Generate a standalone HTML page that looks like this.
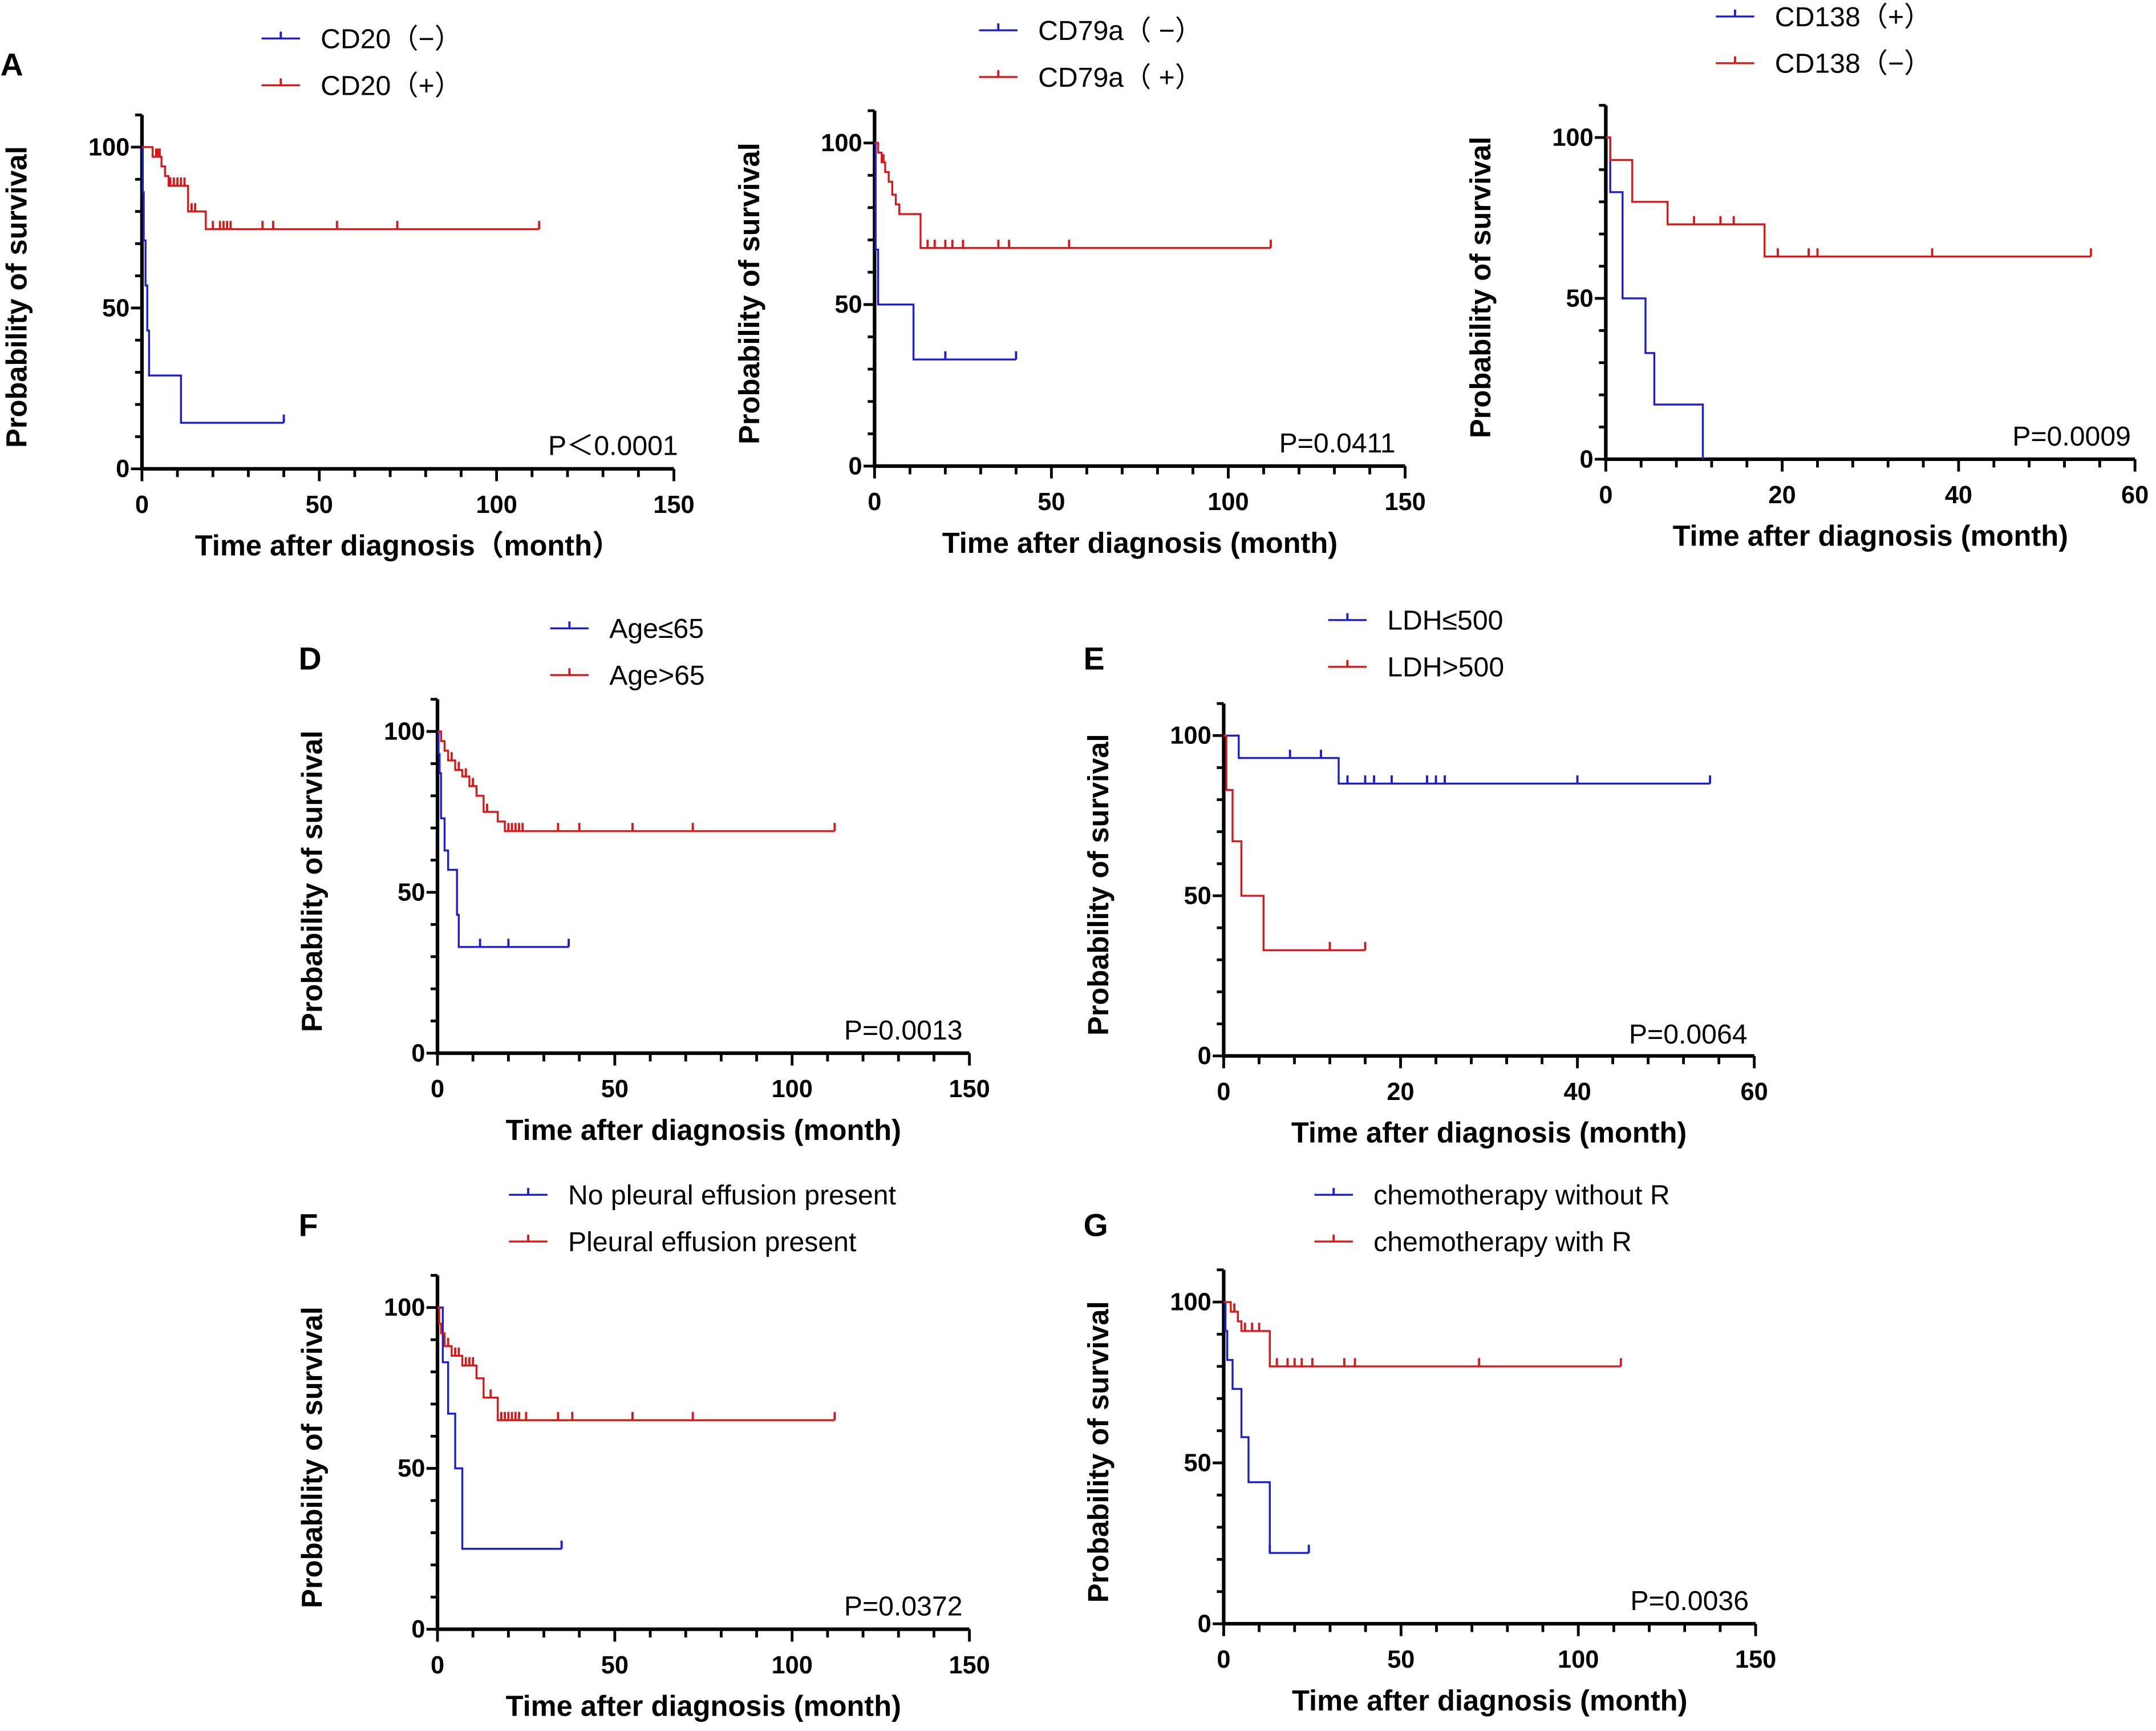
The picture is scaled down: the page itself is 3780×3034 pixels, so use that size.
<!DOCTYPE html>
<html><head><meta charset="utf-8"><style>
html,body{margin:0;padding:0;background:#fff}
svg{display:block}
text{font-family:"Liberation Sans","Noto Sans CJK SC",sans-serif}
</style></head><body>
<svg id="fig" width="3780" height="3034" viewBox="0 0 1568 1259" xmlns="http://www.w3.org/2000/svg"></svg>
<script>
// ---- data (time in months, survival %) ----
const aBlueT=[0.2,0.5,1,1.5,2,11], aBlueS=[86,71,57,43,29,14.3], aBlueC=[40], aBlueEnd=40;
const aRedT=[3,5.5,6.5,7.5,13,18], aRedS=[97,94,91,88,80,74.5], aRedC=[4,4.5,5,8,9,10,11,12,14,15,20,22,23,24,25,34,37,55,72,112], aRedEnd=112;
const bBlueT=[0.3,1,11], bBlueS=[67,50,33], bBlueC=[20,40], bBlueEnd=40;
const bRedT=[1,2,3,4,5,6,7,13], bRedS=[97,94,91,88,84,81,78,67.5], bRedC=[2.5,15,17,20,22,25,35,38,55,112], bRedEnd=112;
const cBlueT=[0.5,1.9,4.5,5.5,11], cBlueS=[83,50,33,17,0], cBlueC=[], cBlueEnd=11;
const cRedT=[0.5,3,7,18], cRedS=[93,80,73,63], cRedC=[10,13,14.5,19.5,23,24,37,55], cRedEnd=55;
const dBlueT=[0.3,0.6,1,2,3,5.5,6], dBlueS=[93,87,73,63,57,43,33], dBlueC=[12,20,37], dBlueEnd=37;
const dRedT=[1,2,3,5,7,9,11,13,17,19], dRedS=[97,94,91,88,86,83,80,75,72,69], dRedC=[4,6,8,10,14,20,21,22,23,24,34,40,55,72,112], dRedEnd=112;
const eBlueT=[1.7,13], eBlueS=[93,85], eBlueC=[7.5,11,14,16,17,19,23,24,25,40,55], eBlueEnd=55;
const eRedT=[0.3,1,2,4.5], eRedS=[83,67,50,33], eRedC=[12,16], eRedEnd=16;
const fBlueT=[1.5,3,5,7], fBlueS=[83,67,50,25], fBlueC=[35], fBlueEnd=35;
const fRedT=[0.5,1,2,4,7,11,13,17], fRedS=[95,92,88,85,82,78,72,65], fRedC=[3,5,6,8,9,10,15,18,19,20,21,22,23,25,34,38,55,72,112], fRedEnd=112;
const gBlueT=[0.5,1,2.5,5,7,13], gBlueS=[91,82,73,58,44,22], gBlueC=[13,24], gBlueEnd=24;
const gRedT=[2,4,5,13], gRedS=[97,94,91,80], gRedC=[3,6,8,10,15,18,20,22,25,34,37,72,112], gRedEnd=112;
const xTicks150=[0,50,100,150], xTicks60=[0,20,40,60], yTicks=[0,50,100];

const NS="http://www.w3.org/2000/svg";
const svg=document.getElementById('fig');
const BLUE="#1c1cd2", RED="#d61a1a";
function mk(tag,attrs,parent){const e=document.createElementNS(NS,tag);for(const k in attrs)e.setAttribute(k,attrs[k]);(parent||svg).appendChild(e);return e;}

function panel(p){
  const g=mk('g',{});
  
  
  const sx=t=>p.x0+(t/p.xmax)*(p.x1-p.x0);
  const sy=v=>p.y0-(v/100)*(p.y0-p.y100);
  const ax=mk('path',{d:`M${p.x0},${sy(110)} L${p.x0},${p.y0} L${p.x1},${p.y0}`,fill:'none',stroke:'#000','stroke-width':2.6},g);
  
  
  for(let v=0;v<=110;v+=10){const maj=v%50===0;mk('line',{x1:p.x0-(maj?8:5),x2:p.x0,y1:sy(v),y2:sy(v),stroke:'#000','stroke-width':2},g);}
  const minor=p.xmax/15;
  for(let i=0;i<=15;i++){const t=i*minor;const maj=p.xt.includes(Math.round(t));mk('line',{x1:sx(t),x2:sx(t),y1:p.y0,y2:p.y0+(maj?9:6),stroke:'#000','stroke-width':2},g);}
  yTicks.forEach(v=>{const t=mk('text',{x:p.x0-9,y:sy(v)+6,'text-anchor':'end','font-size':18,'font-weight':'bold'},g);t.textContent=v;
    });
  p.xt.forEach(v=>{const t=mk('text',{x:sx(v),y:p.y0+32,'text-anchor':'middle','font-size':18,'font-weight':'bold'},g);t.textContent=v;
    });
  const xt=mk('text',{x:(p.x0+p.x1)/2,y:p.y0+63,'text-anchor':'middle','font-size':21,'font-weight':'bold'},g);xt.textContent=p.xtitle||'Time after diagnosis (month)';
  
  const cy=(p.y0+p.y100)/2-8, cx=p.x0-84;
  const yt=mk('text',{x:cx,y:cy,'text-anchor':'middle','font-size':21,'font-weight':'bold',transform:`rotate(-90 ${cx} ${cy})`},g);yt.textContent='Probability of survival';
  
  const pv=mk('text',{x:p.px,y:p.py,'text-anchor':'end','font-size':20},g);pv.textContent=p.pval;
  
  if(p.letter){const L=mk('text',{x:p.lx,y:p.ly,'font-size':23,'font-weight':'bold'},g);L.textContent=p.letter;
    }
  p.series.forEach((s,i)=>{
    const col=s.c;
    let d=`M${sx(0)},${sy(100)}`;let cur=100;
    s.T.forEach((t,j)=>{d+=` L${sx(t)},${sy(cur)} L${sx(t)},${sy(s.S[j])}`;cur=s.S[j];});
    d+=` L${sx(s.end)},${sy(cur)}`;
    const ln=mk('path',{d:d,fill:'none',stroke:col,'stroke-width':1.4},g);
    
    
    s.C.forEach(t=>{let v=100;s.T.forEach((tt,j)=>{if(tt<=t)v=s.S[j];});
      const ck=mk('line',{x1:sx(t),x2:sx(t),y1:sy(v),y2:sy(v)-6,stroke:col,'stroke-width':1.6},g);
      
      });
    const ly=p.leg[1]+i*34;
    const lg=mk('g',{},g);
    
    
    mk('line',{x1:p.leg[0],x2:p.leg[0]+28,y1:ly,y2:ly,stroke:col,'stroke-width':1.4},lg);
    mk('line',{x1:p.leg[0]+14,x2:p.leg[0]+14,y1:ly,y2:ly-5,stroke:col,'stroke-width':1.6},lg);
    const lt=mk('text',{x:p.leg[0]+43,y:ly+7,'font-size':20},lg);lt.textContent=s.label;
  });
}
panel({id:'a',letter:'A',lx:0,ly:55,x0:103,x1:490,y0:341,y100:107,xmax:150,xt:xTicks150,px:493,py:331,pval:'P＜0.0001',leg:[190,28],xtitle:'Time after diagnosis（month）',
  series:[{n:'cd20-neg',c:BLUE,T:aBlueT,S:aBlueS,C:aBlueC,end:aBlueEnd,label:'CD20（−）'},{n:'cd20-pos',c:RED,T:aRedT,S:aRedS,C:aRedC,end:aRedEnd,label:'CD20（+）'}]});
panel({id:'b',x0:636,x1:1022,y0:339,y100:104,xmax:150,xt:xTicks150,px:1015,py:329,pval:'P=0.0411',leg:[712,22],
  series:[{n:'cd79a-neg',c:BLUE,T:bBlueT,S:bBlueS,C:bBlueC,end:bBlueEnd,label:'CD79a（ −）'},{n:'cd79a-pos',c:RED,T:bRedT,S:bRedS,C:bRedC,end:bRedEnd,label:'CD79a（ +）'}]});
panel({id:'c',x0:1168,x1:1553,y0:334,y100:100,xmax:60,xt:xTicks60,px:1550,py:324,pval:'P=0.0009',leg:[1248,12],
  series:[{n:'cd138-pos',c:BLUE,T:cBlueT,S:cBlueS,C:cBlueC,end:cBlueEnd,label:'CD138（+）'},{n:'cd138-neg',c:RED,T:cRedT,S:cRedS,C:cRedC,end:cRedEnd,label:'CD138（−）'}]});
panel({id:'d',letter:'D',lx:217,ly:487,x0:318,x1:705,y0:766,y100:532,xmax:150,xt:xTicks150,px:700,py:756,pval:'P=0.0013',leg:[400,457],
  series:[{n:'age-le65',c:BLUE,T:dBlueT,S:dBlueS,C:dBlueC,end:dBlueEnd,label:'Age≤65'},{n:'age-gt65',c:RED,T:dRedT,S:dRedS,C:dRedC,end:dRedEnd,label:'Age>65'}]});
panel({id:'e',letter:'E',lx:788,ly:487,x0:890,x1:1276,y0:768,y100:535,xmax:60,xt:xTicks60,px:1271,py:759,pval:'P=0.0064',leg:[966,451],
  series:[{n:'ldh-le500',c:BLUE,T:eBlueT,S:eBlueS,C:eBlueC,end:eBlueEnd,label:'LDH≤500'},{n:'ldh-gt500',c:RED,T:eRedT,S:eRedS,C:eRedC,end:eRedEnd,label:'LDH>500'}]});
panel({id:'f',letter:'F',lx:217,ly:899,x0:318,x1:705,y0:1185,y100:951,xmax:150,xt:xTicks150,px:700,py:1175,pval:'P=0.0372',leg:[370,869],
  series:[{n:'no-effusion',c:BLUE,T:fBlueT,S:fBlueS,C:fBlueC,end:fBlueEnd,label:'No pleural effusion present'},{n:'effusion',c:RED,T:fRedT,S:fRedS,C:fRedC,end:fRedEnd,label:'Pleural effusion present'}]});
panel({id:'g',letter:'G',lx:788,ly:899,x0:890,x1:1277,y0:1181,y100:947,xmax:150,xt:xTicks150,px:1272,py:1171,pval:'P=0.0036',leg:[956,869],
  series:[{n:'chemo-without-r',c:BLUE,T:gBlueT,S:gBlueS,C:gBlueC,end:gBlueEnd,label:'chemotherapy without R'},{n:'chemo-with-r',c:RED,T:gRedT,S:gRedS,C:gRedC,end:gRedEnd,label:'chemotherapy with R'}]});
</script>
</body></html>
